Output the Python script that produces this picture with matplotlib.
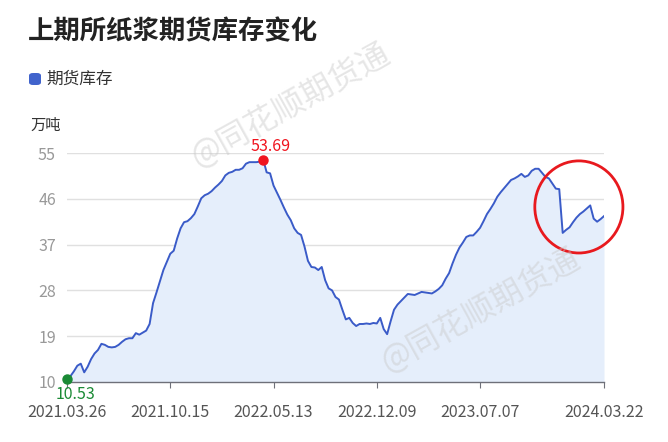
import matplotlib
matplotlib.use('Agg')
import matplotlib.pyplot as plt
from matplotlib.patches import Ellipse, FancyBboxPatch
import numpy as np

plt.rcParams['font.family'] = ['Noto Sans CJK SC', 'DejaVu Sans']

# weekly inventory (万吨), 2021.03.26 - 2024.03.22
inventory = [
    10.53, 11.15, 12.1, 13.2, 13.6, 11.9, 13.0, 14.5, 15.6, 16.3,
    17.5, 17.3, 16.9, 16.8, 16.9, 17.3, 17.9, 18.4, 18.6, 18.6,
    19.6, 19.3, 19.7, 20.1, 21.4, 25.5, 27.6, 29.8, 32.0, 33.6,
    35.2, 35.8, 38.2, 40.2, 41.4, 41.6, 42.2, 43.0, 44.5, 46.1,
    46.7, 47.0, 47.5, 48.2, 48.8, 49.5, 50.6, 51.1, 51.3, 51.7,
    51.7, 52.0, 52.9, 53.2, 53.2, 53.2, 53.3, 53.69, 51.2, 51.0,
    48.6, 47.2, 45.8, 44.3, 42.9, 41.8, 40.2, 39.3, 38.9, 36.6,
    33.8, 32.6, 32.5, 32.0, 32.6, 30.0, 28.4, 28.0, 26.7, 26.2,
    24.2, 22.3, 22.6, 21.6, 21.0, 21.4, 21.4, 21.5, 21.4, 21.6,
    21.5, 22.6, 20.4, 19.4, 21.9, 24.2, 25.2, 25.9, 26.6, 27.3,
    27.2, 27.1, 27.4, 27.7, 27.6, 27.5, 27.4, 27.8, 28.3, 29.0,
    30.3, 31.4, 33.3, 35.0, 36.4, 37.4, 38.5, 38.8, 38.8, 39.5,
    40.3, 41.6, 43.0, 44.0, 45.1, 46.4, 47.3, 48.1, 48.9, 49.7,
    50.0, 50.4, 50.9, 50.3, 50.6, 51.5, 51.9, 51.9, 51.1, 50.3,
    50.0, 49.0, 48.0, 47.9, 39.3, 39.9, 40.4, 41.4, 42.3, 43.0,
    43.5, 44.1, 44.7, 42.1, 41.5, 42.0, 42.6,
]
tick_idx = [0, 30, 60, 90, 120, 156]
tick_labels = ["2021.03.26", "2021.10.15", "2022.05.13", "2022.12.09", "2023.07.07", "2024.03.22"]
y_ticks = [10, 19, 28, 37, 46, 55]

line_color = '#3a5bc8'
fill_color = '#e5eefb'

fig = plt.figure(figsize=(6.68, 4.42), dpi=100)
ax = fig.add_axes([67/668, 60/442, 537/668, 229/442])

x = np.arange(len(inventory))
y = np.array(inventory)

ax.fill_between(x, y, 10, color=fill_color, lw=0, zorder=1)
ax.plot(x, y, color=line_color, lw=1.4, zorder=3)

# max / min markers
imax = int(np.argmax(y))
imin = int(np.argmin(y))
ax.plot(imax, y[imax], 'o', color='#f0141e', ms=6.5, zorder=5, clip_on=False)
ax.plot(imin, y[imin], 'o', color='#1a8a35', ms=6.5, zorder=5, clip_on=False)
ax.annotate('%.2f' % y[imax], (imax, y[imax]), xytext=(5, 3), textcoords='offset points',
            ha='center', va='bottom', color='#f0141e', fontsize=11.5, annotation_clip=False)
ax.annotate('%.2f' % y[imin], (imin, y[imin]), xytext=(6, -5), textcoords='offset points',
            ha='center', va='top', color='#1a8a35', fontsize=11.5, annotation_clip=False, zorder=6)

ax.set_xlim(0, len(inventory) - 1)
ax.set_ylim(10, 55)
ax.set_yticks(y_ticks)
ax.set_xticks(tick_idx)
ax.set_xticklabels(tick_labels)
ax.grid(axis='y', color='#e0e0e0', lw=1, zorder=0)
ax.set_axisbelow(True)
for s in ['top', 'right', 'left']:
    ax.spines[s].set_visible(False)
ax.spines['bottom'].set_color('#6e7079')
ax.spines['bottom'].set_linewidth(1)
ax.spines['bottom'].set_zorder(4)
ax.tick_params(axis='x', length=4, color='#6e7079', labelsize=11.5, labelcolor='#555555', pad=12)
ax.tick_params(axis='y', length=0, labelsize=11.5, labelcolor='#999999', pad=8)

# annotation circle
ax.add_patch(Ellipse((148.7, 44.4), 25.6, 18.1, fill=False, ec='#e8191e', lw=2, clip_on=False, zorder=6))

# watermarks
for cx, cy in [(290, 337), (480, 132)]:
    fig.text(cx/668, cy/442, '@同花顺期货通', fontsize=23, color='#c8c8c8', alpha=0.45,
             rotation=29, ha='center', va='center', zorder=10)

fig.text(28/668, 1 - 32/442, '上期所纸浆期货库存变化', fontsize=19, fontweight='bold',
         color='#222222', ha='left', va='center')
fig.patches.append(FancyBboxPatch((29/668, 1 - 85/442), 12/668, 12/442,
                                  boxstyle='round,pad=0,rounding_size=0.006',
                                  transform=fig.transFigure, fc='#4063cc', ec='none'))
fig.text(46/668, 1 - 79/442, '期货库存', fontsize=12, color='#333333', ha='left', va='center')
fig.text(30/668, 1 - 125/442, '万吨', fontsize=11, color='#333333', ha='left', va='center')

plt.savefig('out.png', dpi=100)
